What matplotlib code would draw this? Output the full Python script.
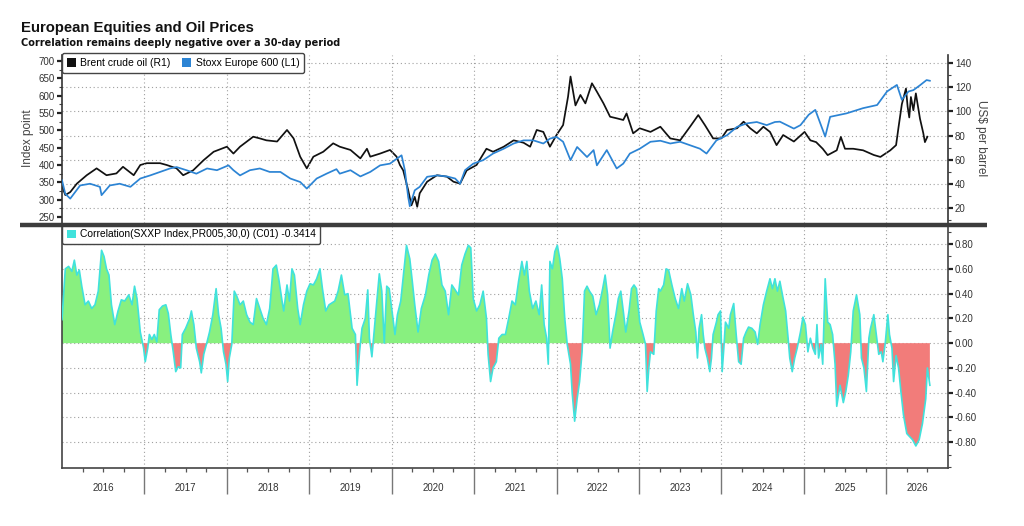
import matplotlib
matplotlib.use("Agg")
import matplotlib.pyplot as plt
import numpy as np
from matplotlib.patches import Patch
from matplotlib.lines import Line2D
from matplotlib.ticker import MultipleLocator, FixedLocator, FormatStrFormatter, NullFormatter
import matplotlib.transforms as mtransforms

TITLE = "European Equities and Oil Prices"
SUBTITLE = "Correlation remains deeply negative over a 30-day period"
LEG_BRENT = "Brent crude oil (R1)"
LEG_STOXX = "Stoxx Europe 600 (L1)"
LEG_CORR = "Correlation(SXXP Index,PR005,30,0) (C01) -0.3414"
YLABEL_L = "Index point"
YLABEL_R = "US$ per barrel"

years = list(range(2016, 2027))
year_labels = [str(y) for y in years]
x_end = 2026.75

left_ticks = [250, 300, 350, 400, 450, 500, 550, 600, 650, 700]
right_ticks = [20, 40, 60, 80, 100, 120, 140]
corr_ticks = [-0.8, -0.6, -0.4, -0.2, 0.0, 0.2, 0.4, 0.6, 0.8]

# Brent crude oil, US$ per barrel (right axis)
brent_t = [
    2016.00, 2016.04, 2016.10, 2016.18, 2016.30, 2016.42, 2016.54, 2016.66, 2016.74, 2016.87,
    2016.95, 2017.03, 2017.19, 2017.27, 2017.39, 2017.47, 2017.59, 2017.72, 2017.84, 2018.00,
    2018.08, 2018.16, 2018.32, 2018.40, 2018.48, 2018.61, 2018.73, 2018.81, 2018.89, 2018.97,
    2019.05, 2019.17, 2019.29, 2019.37, 2019.50, 2019.62, 2019.70, 2019.74, 2019.86, 2019.98,
    2020.06, 2020.10, 2020.14, 2020.20, 2020.24, 2020.28, 2020.31, 2020.34, 2020.43, 2020.55,
    2020.67, 2020.75, 2020.83, 2020.91, 2021.03, 2021.15, 2021.23, 2021.36, 2021.48, 2021.60,
    2021.68, 2021.76, 2021.84, 2021.92, 2022.00, 2022.08, 2022.14, 2022.17, 2022.23, 2022.29,
    2022.35, 2022.43, 2022.49, 2022.57, 2022.65, 2022.73, 2022.81, 2022.85, 2022.93, 2023.01,
    2023.14, 2023.26, 2023.38, 2023.50, 2023.62, 2023.72, 2023.80, 2023.90, 2024.00, 2024.07,
    2024.19, 2024.27, 2024.35, 2024.43, 2024.51, 2024.59, 2024.67, 2024.75, 2024.88, 2025.01,
    2025.08, 2025.15, 2025.23, 2025.29, 2025.40, 2025.45, 2025.50, 2025.60, 2025.72, 2025.85,
    2025.93, 2026.05, 2026.12, 2026.15, 2026.19, 2026.24, 2026.26, 2026.28, 2026.30, 2026.33,
    2026.36, 2026.41, 2026.45, 2026.47, 2026.50,
]
brent = [
    38, 30.5, 33, 40, 47, 52.7, 47, 48.5, 54, 47,
    55.5, 57, 57, 55.5, 52.7, 47, 51, 59.6, 66.5, 70.7,
    65, 70.7, 79, 77.6, 76, 75, 84.6, 77.6, 62.4, 52.7,
    62.4, 66.5, 73.5, 70.7, 68, 61, 69, 62.4, 65, 68,
    62.4, 55.5, 51, 34.7, 22, 29, 20.8, 32, 41.6, 47,
    45.8, 41.6, 40, 51, 55.5, 69, 66.5, 70.7, 76, 74,
    70.7, 84.6, 83, 70.7, 80.4, 88.7, 112.3, 129, 105, 113.7,
    106.7, 123.4, 116.4, 106.7, 95.6, 94.3, 92.9, 98.4, 81.8, 86,
    83, 87.3, 77.6, 76, 87.3, 97, 88.7, 77.6, 77.6, 84.6,
    86, 91.5, 86, 81.8, 87.3, 83, 72, 80.4, 75, 83,
    76, 74.5, 69, 63.7, 67.7, 78.8, 69, 69, 67.7, 63.8,
    62.2, 67.7, 72, 87, 106, 119, 104, 95, 112, 101,
    115, 94, 82, 74.5, 79,
]

# Stoxx Europe 600, index points (left axis)
stoxx_t = [
    2016.00, 2016.04, 2016.10, 2016.22, 2016.34, 2016.46, 2016.48, 2016.58, 2016.70, 2016.83,
    2016.95, 2017.07, 2017.19, 2017.31, 2017.39, 2017.51, 2017.63, 2017.76, 2017.88, 2018.02,
    2018.08, 2018.16, 2018.28, 2018.40, 2018.52, 2018.65, 2018.77, 2018.89, 2018.97, 2019.09,
    2019.21, 2019.33, 2019.37, 2019.50, 2019.62, 2019.74, 2019.86, 2019.98, 2020.12, 2020.16,
    2020.20, 2020.22, 2020.28, 2020.34, 2020.43, 2020.55, 2020.67, 2020.77, 2020.83, 2020.89,
    2020.99, 2021.11, 2021.23, 2021.36, 2021.48, 2021.60, 2021.72, 2021.84, 2021.92, 2022.00,
    2022.08, 2022.17, 2022.25, 2022.37, 2022.45, 2022.49, 2022.61, 2022.73, 2022.81, 2022.89,
    2023.01, 2023.14, 2023.26, 2023.38, 2023.50, 2023.62, 2023.74, 2023.82, 2023.94, 2024.07,
    2024.19, 2024.31, 2024.43, 2024.55, 2024.65, 2024.71, 2024.88, 2024.96, 2025.06, 2025.14,
    2025.26, 2025.32, 2025.52, 2025.72, 2025.89, 2026.01, 2026.13, 2026.19, 2026.27, 2026.33,
    2026.41, 2026.49, 2026.53,
]
stoxx = [
    356, 317, 303, 341, 346, 337, 313, 341, 346, 337,
    361, 370, 380, 390, 394, 385, 375, 390, 385, 399,
    385, 370, 385, 390, 380, 380, 361, 351, 332, 361,
    375, 388, 375, 385, 367, 380, 399, 404, 428, 385,
    308, 281, 327, 337, 366, 370, 367, 361, 346, 385,
    404, 414, 433, 447, 462, 471, 471, 462, 476, 481,
    467, 414, 452, 423, 443, 399, 443, 390, 404, 433,
    447, 467, 470, 462, 467, 457, 447, 433, 471, 486,
    510, 520, 524, 515, 524, 525, 505, 515, 545, 559,
    482, 539, 549, 564, 573, 612, 631, 588, 612, 616,
    630, 645, 643,
]

# 30-day correlation
corr_t = [
    2016.00, 2016.04, 2016.08, 2016.12, 2016.15, 2016.18, 2016.21, 2016.24, 2016.28, 2016.32,
    2016.36, 2016.40, 2016.44, 2016.48, 2016.51, 2016.54, 2016.57, 2016.60, 2016.64, 2016.68,
    2016.72, 2016.76, 2016.81, 2016.85, 2016.88, 2016.91, 2016.95, 2016.99, 2017.01, 2017.04,
    2017.06, 2017.09, 2017.12, 2017.15, 2017.18, 2017.22, 2017.26, 2017.29, 2017.32, 2017.35,
    2017.38, 2017.41, 2017.44, 2017.46, 2017.50, 2017.55, 2017.57, 2017.60, 2017.63, 2017.67,
    2017.69, 2017.72, 2017.76, 2017.79, 2017.83, 2017.87, 2017.90, 2017.93, 2017.96, 2017.99,
    2018.01, 2018.03, 2018.06, 2018.09, 2018.12, 2018.16, 2018.20, 2018.24, 2018.28, 2018.32,
    2018.36, 2018.40, 2018.44, 2018.48, 2018.52, 2018.56, 2018.60, 2018.63, 2018.67, 2018.69,
    2018.73, 2018.76, 2018.79, 2018.82, 2018.86, 2018.89, 2018.93, 2018.97, 2019.01, 2019.05,
    2019.09, 2019.13, 2019.16, 2019.20, 2019.24,
    2019.31, 2019.35, 2019.39, 2019.43, 2019.47, 2019.52, 2019.56, 2019.58, 2019.61, 2019.64,
    2019.68, 2019.71, 2019.73, 2019.76, 2019.79, 2019.82, 2019.85, 2019.88, 2019.91, 2019.94,
    2019.97, 2020.00, 2020.04, 2020.07, 2020.11, 2020.15, 2020.18, 2020.22, 2020.25, 2020.28,
    2020.32, 2020.36, 2020.41, 2020.45, 2020.49, 2020.53, 2020.57, 2020.61, 2020.65, 2020.69,
    2020.73, 2020.77, 2020.81, 2020.85, 2020.89, 2020.93, 2020.96, 2020.99, 2021.03, 2021.07,
    2021.11, 2021.15, 2021.17, 2021.20, 2021.23, 2021.27, 2021.30, 2021.34, 2021.38, 2021.42,
    2021.46, 2021.50, 2021.54, 2021.58, 2021.61, 2021.64, 2021.67, 2021.71, 2021.75, 2021.79,
    2021.82, 2021.85, 2021.88, 2021.90, 2021.92, 2021.95, 2021.98, 2022.01, 2022.04, 2022.07,
    2022.10, 2022.13, 2022.17, 2022.19, 2022.22, 2022.25, 2022.28, 2022.31, 2022.34, 2022.37,
    2022.40, 2022.44, 2022.48, 2022.52, 2022.56, 2022.59, 2022.62, 2022.65, 2022.68, 2022.72,
    2022.75, 2022.78, 2022.81, 2022.84, 2022.88, 2022.91, 2022.94, 2022.97, 2023.01, 2023.05,
    2023.08, 2023.10, 2023.12, 2023.14, 2023.18, 2023.21, 2023.24,
    2023.26, 2023.30, 2023.33, 2023.36, 2023.40, 2023.44, 2023.48, 2023.52, 2023.55, 2023.59,
    2023.63, 2023.66, 2023.69, 2023.71, 2023.73, 2023.76, 2023.78, 2023.80, 2023.83, 2023.86,
    2023.88, 2023.90, 2023.94, 2023.96, 2023.99, 2024.01, 2024.03, 2024.05, 2024.09, 2024.11,
    2024.15, 2024.18, 2024.21, 2024.24, 2024.27, 2024.30, 2024.33, 2024.37, 2024.41, 2024.44,
    2024.47, 2024.51, 2024.55, 2024.59, 2024.62, 2024.65, 2024.68, 2024.71, 2024.75, 2024.78,
    2024.81, 2024.83, 2024.86, 2024.89, 2024.92, 2024.96, 2024.99, 2025.02, 2025.05, 2025.08,
    2025.11, 2025.14, 2025.16, 2025.18, 2025.21, 2025.23, 2025.26, 2025.29, 2025.32, 2025.35,
    2025.38, 2025.40, 2025.44, 2025.48, 2025.51, 2025.54, 2025.57, 2025.60, 2025.64, 2025.68,
    2025.70, 2025.73, 2025.76, 2025.79, 2025.81, 2025.85, 2025.88, 2025.91, 2025.94, 2025.96,
    2025.99, 2026.02, 2026.04, 2026.07, 2026.09, 2026.12, 2026.15, 2026.18, 2026.21, 2026.25,
    2026.32, 2026.36, 2026.40, 2026.44, 2026.48, 2026.50, 2026.53,
]
corr = [
    0.19, 0.60, 0.62, 0.58, 0.67, 0.55, 0.59, 0.46, 0.31, 0.34,
    0.28, 0.31, 0.42, 0.75, 0.70, 0.60, 0.55, 0.31, 0.15, 0.26,
    0.35, 0.34, 0.39, 0.31, 0.46, 0.36, 0.09, -0.04, -0.15, -0.04,
    0.07, 0.03, 0.07, 0.01, 0.27, 0.30, 0.31, 0.24, 0.07, -0.07,
    -0.23, -0.19, -0.20, 0.07, 0.12, 0.20, 0.26, 0.15, -0.04, -0.15,
    -0.24, -0.09, 0.01, 0.09, 0.23, 0.44, 0.23, 0.12, -0.07, -0.17,
    -0.31, -0.12, -0.01, 0.42, 0.38, 0.31, 0.34, 0.23, 0.17, 0.15,
    0.36, 0.28, 0.20, 0.15, 0.28, 0.60, 0.63, 0.52, 0.34, 0.26,
    0.47, 0.34, 0.60, 0.55, 0.28, 0.15, 0.31, 0.42, 0.48, 0.47,
    0.52, 0.60, 0.44, 0.26, 0.31,
    0.34, 0.42, 0.55, 0.39, 0.40, 0.12, 0.07, -0.34, -0.07, 0.12,
    0.20, 0.43, 0.04, -0.11, 0.12, 0.34, 0.56, 0.42, 0.00, 0.46,
    0.44, 0.28, 0.07, 0.23, 0.34, 0.60, 0.79, 0.68, 0.50, 0.31,
    0.09, 0.28, 0.39, 0.55, 0.67, 0.72, 0.66, 0.47, 0.42, 0.23,
    0.47, 0.43, 0.39, 0.63, 0.72, 0.79, 0.77, 0.36, 0.26, 0.31,
    0.42, 0.20, -0.09, -0.31, -0.20, -0.15, 0.04, 0.07, 0.07, 0.20,
    0.34, 0.31, 0.50, 0.66, 0.55, 0.66, 0.42, 0.28, 0.34, 0.23,
    0.47, 0.15, 0.04, -0.17, 0.66, 0.60, 0.74, 0.79, 0.68, 0.52,
    0.20, -0.01, -0.17, -0.40, -0.63, -0.45, -0.31, -0.07, 0.42, 0.46,
    0.42, 0.38, 0.23, 0.31, 0.44, 0.55, 0.39, -0.04, 0.09, 0.23,
    0.36, 0.42, 0.26, 0.09, 0.26, 0.44, 0.47, 0.44, 0.17, 0.07,
    -0.01, -0.39, -0.20, -0.07, -0.09, 0.26, 0.44,
    0.42, 0.47, 0.60, 0.59, 0.47, 0.36, 0.28, 0.44, 0.34, 0.48,
    0.39, 0.23, 0.09, -0.12, 0.12, 0.23, 0.07, -0.04, -0.12, -0.23,
    -0.12, 0.07, 0.17, 0.23, 0.26, -0.23, -0.04, 0.17, 0.12, 0.23,
    0.32, 0.07, -0.15, -0.17, 0.04, 0.09, 0.13, 0.12, 0.09, -0.01,
    0.15, 0.31, 0.42, 0.52, 0.44, 0.52, 0.42, 0.50, 0.36, 0.26,
    0.04, -0.12, -0.23, -0.12, -0.04, 0.09, 0.21, 0.15, -0.07, 0.04,
    -0.04, -0.09, 0.15, -0.12, -0.01, -0.17, 0.52, 0.17, 0.15, 0.07,
    -0.17, -0.51, -0.34, -0.48, -0.39, -0.26, -0.07, 0.26, 0.39, 0.23,
    -0.12, -0.20, -0.39, 0.04, 0.12, 0.23, 0.07, -0.09, -0.07, -0.15,
    0.01, 0.23, 0.07, -0.04, -0.31, -0.10, -0.20, -0.40, -0.58, -0.73,
    -0.78, -0.83, -0.78, -0.65, -0.45, -0.20, -0.34,
]

assert len(brent_t) == len(brent)
assert len(stoxx_t) == len(stoxx)
assert len(corr_t) == len(corr)

BLUE = "#2c84d4"
BLACK = "#111111"
GREEN = "#88f07f"
RED = "#f27c7a"
CYAN = "#40e2dc"
TXT = "#333333"
GRID = dict(color="#a0a0a0", linestyle=(0, (1, 2.5)), linewidth=0.8)

plt.rcParams['font.family'] = ['Liberation Sans', 'DejaVu Sans']

W, H = 1024, 526
fig = plt.figure(figsize=(W / 100, H / 100), dpi=100)
fig.patch.set_facecolor("white")


def rect(x0, y0, x1, y1):
    return [x0 / W, 1 - y1 / H, (x1 - x0) / W, (y1 - y0) / H]


ax1 = fig.add_axes(rect(62, 55, 948, 223))
ax2 = ax1.twinx()
ax3 = fig.add_axes(rect(62, 226, 948, 468))

ax1.set_zorder(ax2.get_zorder() + 1)
ax1.patch.set_visible(False)

# top panel lines
ax2.plot(brent_t, brent, color=BLACK, lw=1.25, zorder=3)
ax1.plot(stoxx_t, stoxx, color=BLUE, lw=1.25, zorder=3)

for ax in (ax1, ax2, ax3):
    ax.set_xlim(2016, x_end)

ax1.set_ylim(232.7, 717.3)
ax2.set_ylim(7.3, 146.9)
ax1.yaxis.set_major_locator(FixedLocator(left_ticks))
ax1.yaxis.set_minor_locator(MultipleLocator(25))
ax2.yaxis.set_major_locator(FixedLocator(right_ticks))
ax2.yaxis.set_minor_locator(MultipleLocator(10))

ax2.grid(axis='y', which='major', **GRID)
ax1.xaxis.set_major_locator(FixedLocator(years[1:]))
ax1.grid(axis='x', which='major', **GRID)
ax1.set_axisbelow(True)
ax2.set_axisbelow(True)

for ax in (ax1, ax2):
    ax.tick_params(axis='x', which='both', bottom=False, top=False, labelbottom=False)
    ax.spines['top'].set_visible(False)
    ax.spines['bottom'].set_visible(False)
ax1.spines['right'].set_visible(False)
ax2.spines['left'].set_visible(False)
ax1.spines['left'].set_color('#333333')
ax2.spines['right'].set_color('#333333')
ax1.spines['left'].set_linewidth(1.2)
ax2.spines['right'].set_linewidth(1.2)

ax1.tick_params(axis='y', which='major', direction='out', length=3.5, width=1.6,
                color='#222222', labelsize=7, labelcolor=TXT, pad=1.5)
ax1.tick_params(axis='y', which='minor', direction='out', length=2, width=0.8, color='#444444')
ax2.tick_params(axis='y', which='major', direction='out', length=3.5, width=1.6,
                color='#222222', labelsize=7, labelcolor=TXT, pad=1.5)
ax2.tick_params(axis='y', which='minor', direction='out', length=2, width=0.8, color='#444444')

ax1.legend(handles=[Patch(facecolor=BLACK, edgecolor='none', label=LEG_BRENT),
                    Patch(facecolor=BLUE, edgecolor='none', label=LEG_STOXX)],
           loc='upper left', bbox_to_anchor=(0, 1.01), borderaxespad=0, ncol=2,
           fontsize=7.5, handlelength=0.9, handleheight=0.9, handletextpad=0.4,
           columnspacing=1.1, borderpad=0.45, frameon=True, fancybox=True,
           edgecolor='#444444', framealpha=1)

# bottom panel
c = np.array(corr)
t = np.array(corr_t)
ax3.fill_between(t, c, 0, where=c >= 0, interpolate=True, facecolor=GREEN, lw=0, zorder=2)
ax3.fill_between(t, c, 0, where=c <= 0, interpolate=True, facecolor=RED, lw=0, zorder=2)
ax3.plot(t, c, color=CYAN, lw=1.2, zorder=3)
ax3.set_ylim(-1.008, 0.946)
ax3.yaxis.tick_right()
ax3.yaxis.set_major_locator(FixedLocator(corr_ticks))
ax3.yaxis.set_major_formatter(FormatStrFormatter('%.2f'))
ax3.yaxis.set_minor_locator(MultipleLocator(0.1))
ax3.tick_params(axis='y', which='major', direction='out', length=3.5, width=1.6,
                color='#222222', labelsize=7, labelcolor=TXT, pad=1.5)
ax3.tick_params(axis='y', which='minor', direction='out', length=2, width=0.8, color='#444444')

ax3.xaxis.set_major_locator(FixedLocator(years[1:]))
ax3.xaxis.set_major_formatter(NullFormatter())
quarters = [y + q / 4 for y in years for q in (1, 2, 3) if y + q / 4 < x_end]
ax3.xaxis.set_minor_locator(FixedLocator(quarters))
ax3.tick_params(axis='x', which='major', direction='out', length=19, width=1.0, color='#777777')
ax3.tick_params(axis='x', which='minor', direction='out', length=3, width=0.9, color='#555555')
ax3.grid(axis='both', which='major', **GRID)
ax3.set_axisbelow(True)
ax3.spines['top'].set_visible(False)
for s in ('left', 'right', 'bottom'):
    ax3.spines[s].set_color('#444444')
    ax3.spines[s].set_linewidth(1.2)

trans = mtransforms.blended_transform_factory(ax3.transData, ax3.transAxes)
for y, lab in zip(years, year_labels):
    xc = (max(y, 2016) + min(y + 1, x_end)) / 2
    ax3.text(xc, -0.083, lab, transform=trans, ha='center', va='center',
             fontsize=7, color=TXT)

ax3.legend(handles=[Patch(facecolor=CYAN, edgecolor='none', label=LEG_CORR)],
           loc='upper left', bbox_to_anchor=(0, 1.005), borderaxespad=0,
           fontsize=7.4, handlelength=0.9, handleheight=0.9, handletextpad=0.4,
           borderpad=0.45, frameon=True, fancybox=True, edgecolor='#444444', framealpha=1)

# panel separator
fig.add_artist(Line2D([20 / W, 987 / W], [1 - 224.5 / H] * 2, lw=3.2,
                      color='#3c3c3c', solid_capstyle='butt'))

# titles and axis labels
fig.text(21 / W, 1 - 28 / H, TITLE, fontsize=10.7, fontweight='bold', color='#111111',
         va='center', ha='left')
fig.text(21 / W, 1 - 43 / H, SUBTITLE, fontsize=7.0, fontweight='bold', color='#111111',
         va='center', ha='left', family=['DejaVu Sans'])
fig.text(28 / W, 1 - 138 / H, YLABEL_L, rotation=90, fontsize=8.5, color='#444444',
         va='center', ha='center')
fig.text(981 / W, 1 - 138 / H, YLABEL_R, rotation=-90, fontsize=8.5, color='#444444',
         va='center', ha='center')

fig.savefig("out.png", dpi=100, facecolor="white")
